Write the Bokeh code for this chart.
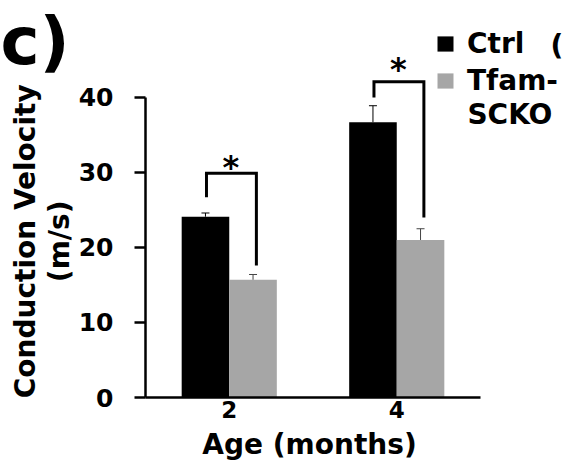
import numpy as np
from bokeh.plotting import figure
from bokeh.layouts import row, column
from bokeh.models import (ColumnDataSource, Range1d, Whisker,
                          Legend, LegendItem, FixedTicker)
from bokeh.core.properties import value
from bokeh.embed import file_html
from bokeh.resources import INLINE

# Conduction velocity (m/s), mean and SEM per age group
ages = ["2", "4"]
ctrl_mean = [24.1, 36.7]
ctrl_sem = [0.5, 2.2]
tfam_mean = [15.7, 21.0]
tfam_sem = [0.7, 1.5]
y_ticks = [0, 10, 20, 30, 40]

# significance brackets: left foot, right foot, bracket height, star height
sig_left = [26.7, 40.0]
sig_right = [17.6, 24.0]
sig_top = [29.9, 42.1]
sig_star = [30.75, 43.85]
sig_mark = ["*", "*"]

FONT = "DejaVu Sans"
BLACK = "#000000"
GRAY = "#a6a6a6"
BAR_W = 0.284
OFF = BAR_W / 2

x_pos = np.arange(len(ages)) + 0.5

src = ColumnDataSource(dict(
    x_ctrl=x_pos - OFF,
    x_tfam=x_pos + OFF,
    ctrl=ctrl_mean,
    ctrl_hi=[m + e for m, e in zip(ctrl_mean, ctrl_sem)],
    tfam=tfam_mean,
    tfam_hi=[m + e for m, e in zip(tfam_mean, tfam_sem)],
))


def put_text(fig, x, y, text, size, align="left", angle=0.0):
    fig.text(x=[x], y=[y], text=[text], angle=angle,
             text_font=value(FONT), text_font_style="bold", text_font_size=size,
             text_color=BLACK, text_align=align, text_baseline="alphabetic")


def blank_panel(w, h):
    f = figure(width=w, height=h, x_range=Range1d(0, w), y_range=Range1d(0, h),
               x_axis_type=None, y_axis_type=None, output_backend="svg",
               toolbar_location=None, min_border=0)
    f.outline_line_color = None
    f.grid.visible = False
    return f


# ---- main chart -------------------------------------------------------
p = figure(width=488, height=427,
           x_range=Range1d(0, 2.4955), y_range=Range1d(0, 52.93),
           output_backend="svg", toolbar_location=None,
           min_border_left=70, min_border_right=0,
           min_border_top=0, min_border_bottom=30)
p.outline_line_color = None
p.grid.visible = False

r_ctrl = p.vbar(x="x_ctrl", top="ctrl", width=BAR_W, source=src,
                fill_color=BLACK, line_color=None)
r_tfam = p.vbar(x="x_tfam", top="tfam", width=BAR_W, source=src,
                fill_color=GRAY, line_color=None)

# upward SEM whiskers
for xcol, col, hi, color in [("x_ctrl", "ctrl", "ctrl_hi", BLACK),
                             ("x_tfam", "tfam", "tfam_hi", "#444444")]:
    w = Whisker(base=xcol, lower=col, upper=hi, source=src, line_color=color,
                line_width=1, lower_head=None, level="glyph")
    w.upper_head.size = 8
    w.upper_head.line_width = 1
    w.upper_head.line_color = color
    p.add_layout(w)

# significance brackets and stars
xs, ys = [], []
for c, lo_l, lo_r, top in zip(x_pos, sig_left, sig_right, sig_top):
    xl, xr = c - OFF + 0.006, c + OFF + 0.02
    xs.append([xl, xl, xr, xr])
    ys.append([lo_l, top, top, lo_r])
p.multi_line(xs, ys, line_width=3, line_color=BLACK, line_join="miter")
for c, s, m in zip(x_pos, sig_star, sig_mark):
    put_text(p, c + 0.01, s, m, "32px", align="center")

# axes
p.yaxis.ticker = FixedTicker(ticks=y_ticks)
p.yaxis.bounds = (0, 40)
p.yaxis.major_tick_out = 11
p.yaxis.major_tick_in = 0
p.yaxis.minor_tick_line_color = None
p.yaxis.axis_line_width = 2.5
p.yaxis.major_tick_line_width = 2.5
p.yaxis.major_label_text_font = FONT
p.yaxis.major_label_text_font_style = "bold"
p.yaxis.major_label_text_font_size = "25px"
p.yaxis.major_label_text_color = BLACK
p.yaxis.major_label_standoff = 21

p.xaxis.ticker = FixedTicker(ticks=list(x_pos))
p.xaxis.major_label_overrides = {float(x): a for x, a in zip(x_pos, ages)}
p.xaxis.bounds = (0, 2)
p.xaxis.major_tick_out = 0
p.xaxis.major_tick_in = 0
p.xaxis.minor_tick_line_color = None
p.xaxis.axis_line_width = 2.5
p.xaxis.major_label_text_font = FONT
p.xaxis.major_label_text_font_style = "bold"
p.xaxis.major_label_text_font_size = "23px"
p.xaxis.major_label_text_color = BLACK
p.xaxis.major_label_standoff = 3

legend = Legend(items=[LegendItem(label="Ctrl", renderers=[r_ctrl]),
                       LegendItem(label="Tfam-", renderers=[r_tfam])],
                location=(290, 300), orientation="vertical",
                padding=0, margin=0, spacing=4,
                glyph_width=20, glyph_height=19, label_standoff=12,
                label_text_font=FONT, label_text_font_style="bold",
                label_text_font_size="28px", label_text_color=BLACK,
                border_line_color=None, background_fill_alpha=0)
p.add_layout(legend)
# second line of the knockout label, and the edge of the neighbouring panel letter
put_text(p, 1.922, 37.67, "SCKO", "28px")
put_text(p, 2.418, 46.9, "(", "28px")

# ---- axis titles and panel letter ---------------------------------------
left = blank_panel(75, 427)
put_text(left, 25, 168, "Conduction Velocity", "28px", align="center", angle=np.pi / 2)
put_text(left, 58.5, 168, "(m/s)", "28px", align="center", angle=np.pi / 2)
put_text(left, 0, 383, "c)", "66px")

bottom = blank_panel(563, 39)
put_text(bottom, 309, 22.0, "Age (months)", "28px", align="center")

layout = column(row(left, p, spacing=0), bottom, spacing=0)

open("out.html", "w").write(file_html(layout, INLINE))
